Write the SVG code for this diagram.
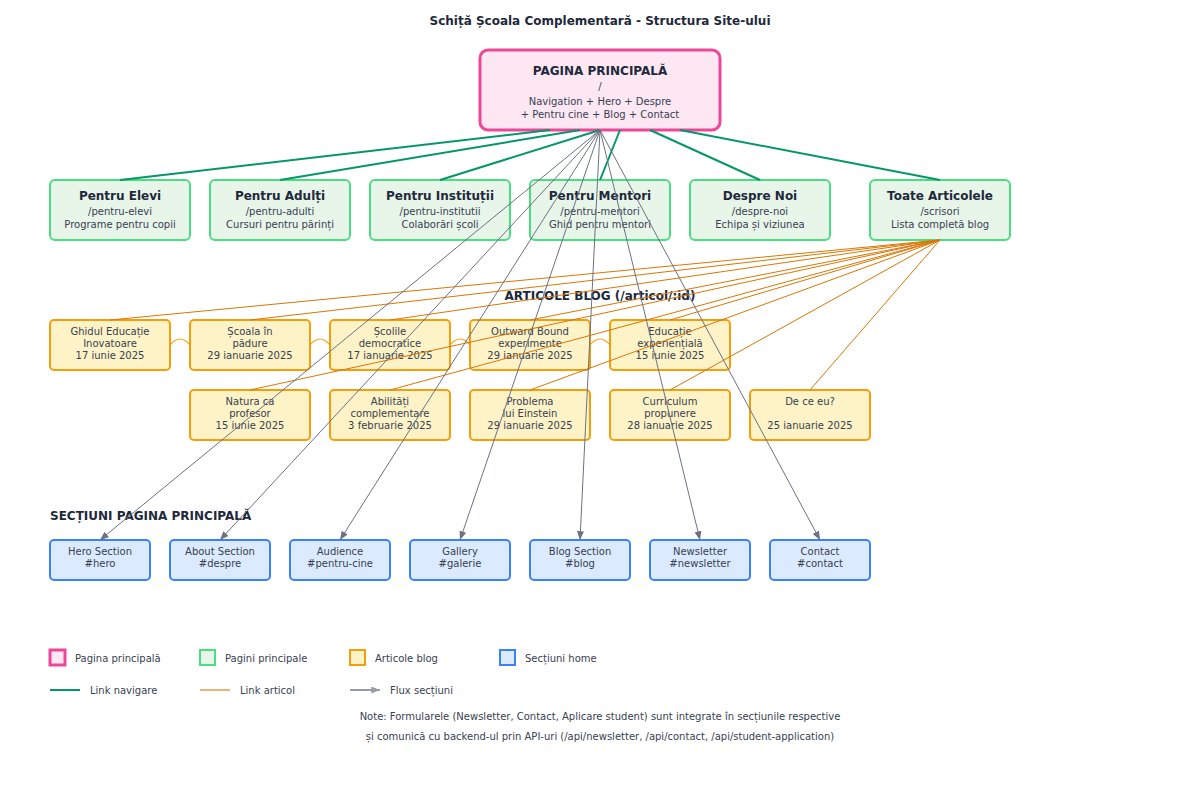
<svg xmlns="http://www.w3.org/2000/svg" width="1200" height="800" viewBox="0 0 1200 800">
<defs>
<style>
text{font-family:"DejaVu Sans","Noto Sans",sans-serif;text-anchor:middle;}
.title{font-size:12px;font-weight:bold;fill:#1e293b;}
.h{font-size:12px;font-weight:bold;fill:#1e293b;}
.s{font-size:10px;fill:#374151;}
.lg{font-size:10px;fill:#374151;text-anchor:start;}
.main{fill:#fce7f3;stroke:#ec4899;stroke-width:3;}
.page{fill:#e8f5e9;stroke:#4ade80;stroke-width:2;}
.blog{fill:#fef3c7;stroke:#f59e0b;stroke-width:2;}
.sec{fill:#dbeafe;stroke:#3b82f6;stroke-width:2;}
.nav{stroke:#059669;stroke-width:2;fill:none;}
.art{stroke:#d97706;stroke-width:1;fill:none;}
.flow{stroke:#6b7280;stroke-width:1;fill:none;}
.jump{stroke:#f59e0b;stroke-width:1.2;fill:none;}
</style>
<marker id="arr" viewBox="0 0 10 8" refX="10" refY="4" markerWidth="9" markerHeight="7" markerUnits="userSpaceOnUse" orient="auto">
<path d="M0,0 L10,4 L0,8 z" fill="#6b7280"/>
</marker>
</defs>
<rect width="1200" height="800" fill="#ffffff"/>
<text class="title" x="600" y="25">Schiță Școala Complementară - Structura Site-ului</text>

<g id="main">
<rect class="main" x="480" y="50" width="240" height="80" rx="8"/>
<text class="h" x="600" y="75">PAGINA PRINCIPALĂ</text>
<text class="s" x="600" y="90">/</text>
<text class="s" x="600" y="105">Navigation + Hero + Despre</text>
<text class="s" x="600" y="118">+ Pentru cine + Blog + Contact</text>
</g>

<g id="pentru-elevi">
<rect class="page" x="50" y="180" width="140" height="60" rx="5"/>
<text class="h" x="120" y="200">Pentru Elevi</text>
<text class="s" x="120" y="215">/pentru-elevi</text>
<text class="s" x="120" y="228">Programe pentru copii</text>
</g>
<g id="pentru-adulti">
<rect class="page" x="210" y="180" width="140" height="60" rx="5"/>
<text class="h" x="280" y="200">Pentru Adulți</text>
<text class="s" x="280" y="215">/pentru-adulti</text>
<text class="s" x="280" y="228">Cursuri pentru părinți</text>
</g>
<g id="pentru-institutii">
<rect class="page" x="370" y="180" width="140" height="60" rx="5"/>
<text class="h" x="440" y="200">Pentru Instituții</text>
<text class="s" x="440" y="215">/pentru-institutii</text>
<text class="s" x="440" y="228">Colaborări școli</text>
</g>
<g id="pentru-mentori">
<rect class="page" x="530" y="180" width="140" height="60" rx="5"/>
<text class="h" x="600" y="200">Pentru Mentori</text>
<text class="s" x="600" y="215">/pentru-mentori</text>
<text class="s" x="600" y="228">Ghid pentru mentori</text>
</g>
<g id="despre-noi">
<rect class="page" x="690" y="180" width="140" height="60" rx="5"/>
<text class="h" x="760" y="200">Despre Noi</text>
<text class="s" x="760" y="215">/despre-noi</text>
<text class="s" x="760" y="228">Echipa și viziunea</text>
</g>
<g id="toate-articolele">
<rect class="page" x="870" y="180" width="140" height="60" rx="5"/>
<text class="h" x="940" y="200">Toate Articolele</text>
<text class="s" x="940" y="215">/scrisori</text>
<text class="s" x="940" y="228">Lista completă blog</text>
</g>

<text class="h" x="600" y="300">ARTICOLE BLOG (/articol/:id)</text>

<g id="blog-jumps">
<path class="jump" d="M170,345 Q180,333 190,345"/>
<path class="jump" d="M310,345 Q320,333 330,345"/>
<path class="jump" d="M450,345 Q460,333 470,345"/>
<path class="jump" d="M590,345 Q600,333 610,345"/>
</g>

<g id="a1">
<rect class="blog" x="50" y="320" width="120" height="50" rx="4"/>
<text class="s" x="110" y="335">Ghidul Educație</text>
<text class="s" x="110" y="347">Inovatoare</text>
<text class="s" x="110" y="359">17 iunie 2025</text>
</g>
<g id="a2">
<rect class="blog" x="190" y="320" width="120" height="50" rx="4"/>
<text class="s" x="250" y="335">Școala în</text>
<text class="s" x="250" y="347">pădure</text>
<text class="s" x="250" y="359">29 ianuarie 2025</text>
</g>
<g id="a3">
<rect class="blog" x="330" y="320" width="120" height="50" rx="4"/>
<text class="s" x="390" y="335">Școlile</text>
<text class="s" x="390" y="347">democratice</text>
<text class="s" x="390" y="359">17 ianuarie 2025</text>
</g>
<g id="a4">
<rect class="blog" x="470" y="320" width="120" height="50" rx="4"/>
<text class="s" x="530" y="335">Outward Bound</text>
<text class="s" x="530" y="347">experimente</text>
<text class="s" x="530" y="359">29 ianuarie 2025</text>
</g>
<g id="a5">
<rect class="blog" x="610" y="320" width="120" height="50" rx="4"/>
<text class="s" x="670" y="335">Educație</text>
<text class="s" x="670" y="347">experiențială</text>
<text class="s" x="670" y="359">15 iunie 2025</text>
</g>
<g id="a6">
<rect class="blog" x="190" y="390" width="120" height="50" rx="4"/>
<text class="s" x="250" y="405">Natura ca</text>
<text class="s" x="250" y="417">profesor</text>
<text class="s" x="250" y="429">15 iunie 2025</text>
</g>
<g id="a7">
<rect class="blog" x="330" y="390" width="120" height="50" rx="4"/>
<text class="s" x="390" y="405">Abilități</text>
<text class="s" x="390" y="417">complementare</text>
<text class="s" x="390" y="429">3 februarie 2025</text>
</g>
<g id="a8">
<rect class="blog" x="470" y="390" width="120" height="50" rx="4"/>
<text class="s" x="530" y="405">Problema</text>
<text class="s" x="530" y="417">lui Einstein</text>
<text class="s" x="530" y="429">29 ianuarie 2025</text>
</g>
<g id="a9">
<rect class="blog" x="610" y="390" width="120" height="50" rx="4"/>
<text class="s" x="670" y="405">Curriculum</text>
<text class="s" x="670" y="417">propunere</text>
<text class="s" x="670" y="429">28 ianuarie 2025</text>
</g>
<g id="a10">
<rect class="blog" x="750" y="390" width="120" height="50" rx="4"/>
<text class="s" x="810" y="405">De ce eu?</text>
<text class="s" x="810" y="429">25 ianuarie 2025</text>
</g>

<text class="h" x="50" y="520" style="text-anchor:start">SECȚIUNI PAGINA PRINCIPALĂ</text>

<g id="s-hero">
<rect class="sec" x="50" y="540" width="100" height="40" rx="4"/>
<text class="s" x="100" y="555">Hero Section</text>
<text class="s" x="100" y="567">#hero</text>
</g>
<g id="s-despre">
<rect class="sec" x="170" y="540" width="100" height="40" rx="4"/>
<text class="s" x="220" y="555">About Section</text>
<text class="s" x="220" y="567">#despre</text>
</g>
<g id="s-audience">
<rect class="sec" x="290" y="540" width="100" height="40" rx="4"/>
<text class="s" x="340" y="555">Audience</text>
<text class="s" x="340" y="567">#pentru-cine</text>
</g>
<g id="s-gallery">
<rect class="sec" x="410" y="540" width="100" height="40" rx="4"/>
<text class="s" x="460" y="555">Gallery</text>
<text class="s" x="460" y="567">#galerie</text>
</g>
<g id="s-blog">
<rect class="sec" x="530" y="540" width="100" height="40" rx="4"/>
<text class="s" x="580" y="555">Blog Section</text>
<text class="s" x="580" y="567">#blog</text>
</g>
<g id="s-newsletter">
<rect class="sec" x="650" y="540" width="100" height="40" rx="4"/>
<text class="s" x="700" y="555">Newsletter</text>
<text class="s" x="700" y="567">#newsletter</text>
</g>
<g id="s-contact">
<rect class="sec" x="770" y="540" width="100" height="40" rx="4"/>
<text class="s" x="820" y="555">Contact</text>
<text class="s" x="820" y="567">#contact</text>
</g>

<g id="connectors">
<line class="nav" x1="550" y1="130" x2="120" y2="180"/>
<line class="nav" x1="580" y1="130" x2="280" y2="180"/>
<line class="nav" x1="600" y1="130" x2="440" y2="180"/>
<line class="nav" x1="620" y1="130" x2="600" y2="180"/>
<line class="nav" x1="650" y1="130" x2="760" y2="180"/>
<line class="nav" x1="680" y1="130" x2="940" y2="180"/>

<line class="art" x1="940" y1="240" x2="110" y2="320"/>
<line class="art" x1="940" y1="240" x2="250" y2="320"/>
<line class="art" x1="940" y1="240" x2="390" y2="320"/>
<line class="art" x1="940" y1="240" x2="530" y2="320"/>
<line class="art" x1="940" y1="240" x2="670" y2="320"/>
<line class="art" x1="940" y1="240" x2="250" y2="390"/>
<line class="art" x1="940" y1="240" x2="390" y2="390"/>
<line class="art" x1="940" y1="240" x2="530" y2="390"/>
<line class="art" x1="940" y1="240" x2="670" y2="390"/>
<line class="art" x1="940" y1="240" x2="810" y2="390"/>

<line class="flow" x1="600" y1="130" x2="100" y2="540" marker-end="url(#arr)"/>
<line class="flow" x1="600" y1="130" x2="220" y2="540" marker-end="url(#arr)"/>
<line class="flow" x1="600" y1="130" x2="340" y2="540" marker-end="url(#arr)"/>
<line class="flow" x1="600" y1="130" x2="460" y2="540" marker-end="url(#arr)"/>
<line class="flow" x1="600" y1="130" x2="580" y2="540" marker-end="url(#arr)"/>
<line class="flow" x1="600" y1="130" x2="700" y2="540" marker-end="url(#arr)"/>
<line class="flow" x1="600" y1="130" x2="820" y2="540" marker-end="url(#arr)"/>
</g>

<g id="legend">
<rect x="50" y="650" width="15" height="15" fill="#fce7f3" stroke="#ec4899" stroke-width="3"/>
<text class="lg" x="75" y="662">Pagina principală</text>
<rect x="200" y="650" width="15" height="15" fill="#e8f5e9" stroke="#4ade80" stroke-width="2"/>
<text class="lg" x="225" y="662">Pagini principale</text>
<rect x="350" y="650" width="15" height="15" fill="#fef3c7" stroke="#f59e0b" stroke-width="2"/>
<text class="lg" x="375" y="662">Articole blog</text>
<rect x="500" y="650" width="15" height="15" fill="#dbeafe" stroke="#3b82f6" stroke-width="2"/>
<text class="lg" x="525" y="662">Secțiuni home</text>
<line x1="50" y1="690" x2="80" y2="690" stroke="#059669" stroke-width="2"/>
<text class="lg" x="90" y="694">Link navigare</text>
<line x1="200" y1="690" x2="230" y2="690" stroke="#d97706" stroke-width="2" opacity="0.55"/>
<text class="lg" x="240" y="694">Link articol</text>
<line x1="350" y1="690" x2="380" y2="690" stroke="#6b7280" stroke-width="2" opacity="0.7" marker-end="url(#arr)"/>
<text class="lg" x="390" y="694">Flux secțiuni</text>
</g>

<text class="s" x="600" y="720">Note: Formularele (Newsletter, Contact, Aplicare student) sunt integrate în secțiunile respective</text>
<text class="s" x="600" y="740">și comunică cu backend-ul prin API-uri (/api/newsletter, /api/contact, /api/student-application)</text>
</svg>
